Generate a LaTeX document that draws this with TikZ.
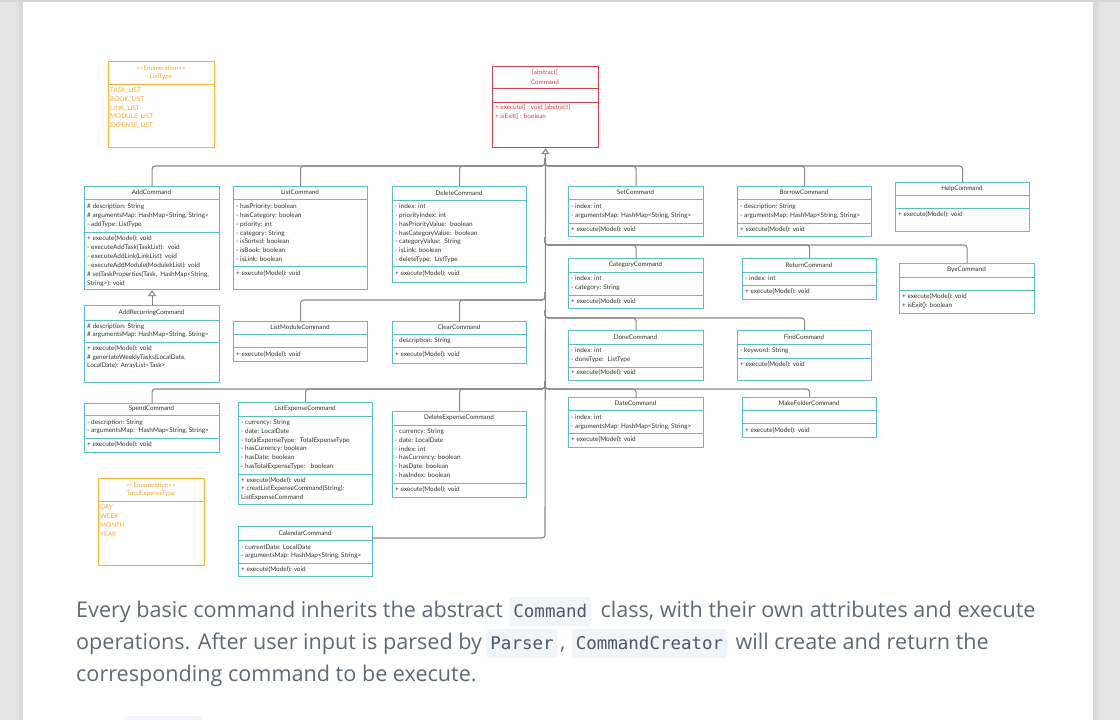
\documentclass[tikz,border=0pt]{standalone}
\usepackage{fontspec}
\setmainfont{Lato}
\newfontfamily\capfont{Open Sans}
\newfontfamily\codefont{DejaVu Sans Mono}
\usetikzlibrary{arrows.meta,calc}
\definecolor{clsteal}{HTML}{5BBFBF}
\definecolor{enumorange}{HTML}{F6B631}
\definecolor{enumtext}{HTML}{F3AA2C}
\definecolor{absred}{HTML}{D3424C}
\definecolor{txtdark}{HTML}{333333}
\definecolor{conngray}{HTML}{8A8A8A}
\definecolor{pagebg}{HTML}{E6E6E6}
\definecolor{pageshadow}{HTML}{D6D6D6}
\definecolor{capgray}{HTML}{5F6A74}
\definecolor{codebg}{HTML}{F1F4F8}
\definecolor{codetext}{HTML}{4A5868}
\tikzset{
  cls/.style={draw=clsteal, line width=1.1pt, fill=white, inner sep=0pt},
  clsline/.style={draw=clsteal, line width=1pt},
  clstitle/.style={font=\fontsize{6.3}{8.6}\selectfont, text=txtdark, inner sep=0pt, align=center},
  clstxt/.style={font=\fontsize{6.4}{7}\selectfont, text=txtdark, inner sep=0pt, anchor=west, text height=4.5pt, text depth=1.4pt},
  enm/.style={draw=enumorange, line width=1.1pt, fill=white, inner sep=0pt},
  enmline/.style={draw=enumorange, line width=1pt},
  enmtitle/.style={font=\fontsize{6.2}{8.4}\selectfont, text=enumtext, inner sep=0pt, align=center},
  enmtxt/.style={font=\fontsize{6.4}{7}\selectfont, text=enumtext, inner sep=0pt, anchor=west, text height=4.5pt, text depth=1.4pt},
  abs/.style={draw=absred, line width=1.1pt, fill=white, inner sep=0pt},
  absline/.style={draw=absred, line width=1pt},
  abstitle/.style={font=\fontsize{6.2}{9.4}\selectfont, text=absred, inner sep=0pt, align=center},
  abstxt/.style={font=\fontsize{6.3}{7}\selectfont, text=absred, inner sep=0pt, anchor=west, text height=4.5pt, text depth=1.4pt},
  conn/.style={draw=conngray, line width=1.1pt, rounded corners=3pt},
  captxt/.style={font=\capfont\fontsize{21.6}{26}\selectfont, text=capgray, inner sep=0pt, anchor=base west},
  codebox/.style={font=\codefont\fontsize{17.5}{20}\selectfont, text=codetext, fill=codebg, rounded corners=3pt,
    inner xsep=4pt, inner ysep=5pt, text height=15pt, text depth=4pt, anchor=base west}
}
\newcommand\klass[9]{%
  \node[#8, anchor=north west, minimum width={#4-#2}, minimum height={#5-#3}] (#1) at (#2,#3) {};
  \draw[#8line] (#2,#6) -- (#4,#6);
  \draw[#8line] (#2,#7) -- (#4,#7);
  \node[#8title] (#1-title) at ({(#2+#4)/2},{(#3+#6)/2}) {#9};
}
\newcommand\members[6]{%
  \foreach \mline [count=\i from 0] in {#6} {\node[#1] (#2-\i) at (#3,{#4+\i*#5}) {\mline};}
}
\begin{document}
\begin{tikzpicture}[x=1pt,y=-1pt]
\useasboundingbox (0,0) rectangle (1120,720);
% page
\fill[pagebg] (0,0) rectangle (1120,720);
\shade[left color=pagebg, right color=pageshadow] (15,0) rectangle (23,720);
\shade[left color=pageshadow, right color=pagebg] (1093,0) rectangle (1101,720);
\fill[white] (23,2) rectangle (1093,720);
\fill[pageshadow] (0,0) rectangle (1120,2);

% enumerations and abstract class
\klass{listtype}{108}{61}{214}{147}{84}{84}{enm}{<{}<Enumeration>{}>\\ListType}
\members{enmtxt}{listtype-a}{110}{91}{8.75}{TASK\_LIST, BOOK\_LIST, LINK\_LIST, MODULE\_LIST, EXPENSE\_LIST}

\klass{cmd}{492}{66}{598}{147}{88}{102}{abs}{[abstract]\\Command}
\members{abstxt}{cmd-o}{495}{108}{9}{+ execute() : void [abstract], + isExit() : boolean}

% row 1
\klass{add}{84}{186}{219}{289}{199}{232}{cls}{AddCommand}
\members{clstxt}{add-a}{87}{207}{8.9}{\# description: String, {\# argumentsMap: HashMap<String, String>}, - addType: ListType}
\members{clstxt}{add-o}{87}{239}{8.9}{+ execute(Model): void, - executeAddTask(TaskList):~ void, - executeAddLink(LinkList): void, - executeAddModule(ModulekList): void, {\# setTaskProperties(Task,~ HashMap<String,}, String>): void}

\klass{list}{233}{186}{367}{289}{199}{266}{cls}{ListCommand}
\members{clstxt}{list-a}{236}{207}{8.85}{- hasPriority: boolean, - hasCategory: boolean, - priority: int, - category: String, - isSorted: boolean, - isBook: boolean, - isLink: boolean}
\members{clstxt}{list-o}{236}{274}{8.85}{+ execute(Model): void}

\klass{del}{392}{186}{526}{282}{200}{266}{cls}{DeleteCommand}
\members{clstxt}{del-a}{395}{207}{8.85}{- index: int, - priorityIndex: int, - hasPriorityValue:~ boolean, - hasCategoryValue:~ boolean, - categoryValue:~ String, - isLink: boolean, - deleteType:~ ListType}
\members{clstxt}{del-o}{395}{274}{8.85}{+ execute(Model): void}

\klass{set}{568}{186}{703}{236}{199}{223}{cls}{SetCommand}
\members{clstxt}{set-a}{571}{207}{8.6}{- index: int, {- argumentsMap: HashMap<String, String>}}
\members{clstxt}{set-o}{571}{229.5}{8.6}{+ execute(Model): void}

\klass{borrow}{737}{186}{871}{236}{199}{223}{cls}{BorrowCommand}
\members{clstxt}{borrow-a}{740}{207}{8.6}{- description: String, {- argumentsMap: HashMap<String, String>}}
\members{clstxt}{borrow-o}{740}{229.5}{8.6}{+ execute(Model): void}

\klass{help}{895}{182}{1029}{231}{195}{208}{cls}{HelpCommand}
\members{clstxt}{help-o}{898}{215}{8.6}{+ execute(Model): void}

% row 2
\klass{category}{568}{258}{703}{308}{272}{295}{cls}{CategoryCommand}
\members{clstxt}{category-a}{571}{279}{8.8}{- index: int, - category: String}
\members{clstxt}{category-o}{571}{301.5}{8.8}{+ execute(Model): void}

\klass{return}{742}{258}{876}{299}{272}{285}{cls}{ReturnCommand}
\members{clstxt}{return-a}{745}{279}{8.8}{- index: int}
\members{clstxt}{return-o}{745}{292}{8.8}{+ execute(Model): void}

\klass{bye}{899}{263}{1034}{313}{277}{290}{cls}{ByeCommand}
\members{clstxt}{bye-o}{902}{297}{8.8}{+ execute(Model): void, + isExit(): boolean}

\klass{addr}{84}{305}{219}{382}{320}{342}{cls}{AddRecurringCommand}
\members{clstxt}{addr-a}{87}{326.5}{8.8}{\# description: String, {\# argumentsMap: HashMap<String, String>}}
\members{clstxt}{addr-o}{87}{349}{8.7}{+ execute(Model): void, {\# genertateWeeklyTasks(LocalDate,}, LocalDate): ArrayList<Task>}

\klass{listmod}{233}{321}{367}{361}{334}{347}{cls}{ListModuleCommand}
\members{clstxt}{listmod-o}{236}{354.5}{8.8}{+ execute(Model): void}

\klass{clear}{392}{321}{526}{363}{334}{347}{cls}{ClearCommand}
\members{clstxt}{clear-a}{395}{341}{8.8}{- description: String}
\members{clstxt}{clear-o}{395}{355}{8.8}{+ execute(Model): void}

\klass{done}{568}{330}{703}{380}{344}{367}{cls}{DoneCommand}
\members{clstxt}{done-a}{571}{351}{8.7}{- index: int, - doneType:~ ListType}
\members{clstxt}{done-o}{571}{373}{8.7}{+ execute(Model): void}

\klass{find}{737}{330}{871}{380}{344}{358}{cls}{FindCommand}
\members{clstxt}{find-a}{740}{351}{8.7}{- keyword: String}
\members{clstxt}{find-o}{740}{364.5}{8.7}{+ execute(Model): void}

% row 3
\klass{date}{568}{397}{703}{447}{410}{433}{cls}{DateCommand}
\members{clstxt}{date-a}{571}{418}{8.8}{- index: int, {- argumentsMap: HashMap<String, String>}}
\members{clstxt}{date-o}{571}{440}{8.8}{+ execute(Model): void}

\klass{makefolder}{742}{397}{876}{437}{410}{423}{cls}{MakeFolderCommand}
\members{clstxt}{makefolder-o}{745}{431}{8.8}{+ execute(Model): void}

\klass{spend}{84}{403}{219}{452}{415}{438}{cls}{SpendCommand}
\members{clstxt}{spend-a}{87}{422.5}{8.8}{- description: String, {- argumentsMap:~ HashMap<String, String>}}
\members{clstxt}{spend-o}{87}{445}{8.8}{+ execute(Model): void}

\klass{listexp}{238}{402}{372}{504}{416}{474}{cls}{ListExpenseCommand}
\members{clstxt}{listexp-a}{241}{423}{8.75}{- currency: String, - date: LocalDate, - totalExpenseType:~ TotalExpenseType, - hasCurrency: boolean, - hasDate: boolean, - hasTotalExpenseType:~~ boolean}
\members{clstxt}{listexp-o}{241}{480.5}{8.8}{+ execute(Model): void, + creatListExpenseCommand(String):, ListExpenseCommand}

\klass{delexp}{392}{411}{526}{497}{425}{483}{cls}{DeleteExpenseCommand}
\members{clstxt}{delexp-a}{395}{432}{8.8}{- currency: String, - date: LocalDate, - index: int, - hasCurrency: boolean, - hasDate: boolean, - hasIndex: boolean}
\members{clstxt}{delexp-o}{395}{490}{8.8}{+ execute(Model): void}

\klass{totalexp}{98}{478}{204}{565}{501}{501}{enm}{<{}<Enumeration>{}>\\TotalExpenseType}
\members{enmtxt}{totalexp-a}{100}{508}{8.9}{DAY, WEEK, MONTH, YEAR}

\klass{cal}{238}{526}{372}{576}{540}{563}{cls}{CalendarCommand}
\members{clstxt}{cal-a}{241}{547.5}{8.8}{- currentDate: LocalDate, {- argumentsMap: HashMap<String, String>}}
\members{clstxt}{cal-o}{241}{569.5}{8.8}{+ execute(Model): void}

% connectors
\coordinate (j1) at (545,166);
\coordinate (j2) at (545,245);
\coordinate (j3) at (545,300);
\coordinate (j4) at (545,318);
\coordinate (j5) at (545,389);
\coordinate (jb) at (545,538);
\coordinate (calin) at (372,538);
\foreach \b/\j in {add/j1, list/j1, del/j1, set/j1, borrow/j1, help/j1, category/j2, return/j2, bye/j2, listmod/j3, clear/j3, done/j4, find/j4, spend/j5, listexp/j5, delexp/j5, date/j5, makefolder/j5}
  \draw[conn] (\b.north) |- (\j) -- ++(0,-8);
\draw[conn, {Triangle[open,width=8pt,length=6pt,fill=white]}-] (cmd.south) -- (jb) -- (calin);
\draw[conn, -{Triangle[open,width=8pt,length=6pt,fill=white]}] (addr.north) -- (add.south);

% caption
\node[captxt] (c1a) at (76,617) {Every basic command inherits the abstract};
\node[codebox] (c1b) at ($(c1a.base east)+(6,0)$) {Command};
\node[captxt] (c1c) at ($(c1b.base east)+(9,0)$) {class, with their own attributes and execute};
\node[captxt] (c2a) at (76,649) {operations. After user input is parsed by};
\node[codebox] (c2b) at ($(c2a.base east)+(4,0)$) {Parser};
\node[captxt] (c2c) at ($(c2b.base east)+(2,0)$) {,};
\node[codebox] (c2d) at ($(c2c.base east)+(6,0)$) {CommandCreator};
\node[captxt] (c2e) at ($(c2d.base east)+(8,0)$) {will create and return the};
\node[captxt] (c3a) at (76,681) {corresponding command to be execute.};
\begin{scope}
  \clip (0,0) rectangle (1120,720);
  \fill[codebg, rounded corners=3pt] (124,716) rectangle (202,740);
\end{scope}
\end{tikzpicture}
\end{document}
